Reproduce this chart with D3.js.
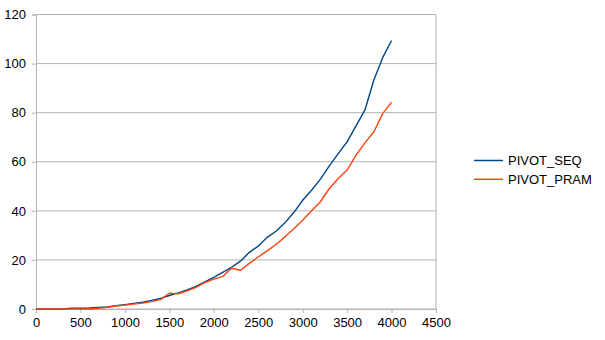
<!DOCTYPE html>
<html>
<head>
<meta charset="utf-8">
<script src="https://cdn.jsdelivr.net/npm/d3@7.9.0/dist/d3.min.js"></script>
<style>
  body { margin: 0; background: #fff; }
  svg { font-family: "Liberation Sans", Arial, sans-serif; }
</style>
</head>
<body>
<svg id="chart" width="605" height="340"></svg>
<script>
// input sizes 0..4000 step 100
const sizes = [0, 100, 200, 300, 400, 500, 600, 700, 800, 900,
  1000, 1100, 1200, 1300, 1400, 1500, 1600, 1700, 1800, 1900,
  2000, 2100, 2200, 2300, 2400, 2500, 2600, 2700, 2800, 2900,
  3000, 3100, 3200, 3300, 3400, 3500, 3600, 3700, 3800, 3900, 4000];

const pivotSeq = [0, 0, 0, 0, 0.3, 0.3, 0.4, 0.6, 0.8, 1.3,
  1.8, 2.3, 2.8, 3.5, 4.3, 5.5, 6.6, 7.8, 9.2, 11.1,
  12.9, 14.9, 17.0, 19.5, 23.1, 25.6, 29.2, 31.7, 35.1, 39.3,
  44.3, 48.4, 52.9, 58.3, 63.3, 68.1, 74.6, 81.0, 93.2, 102.4, 109.4];

const pivotPram = [0, 0, 0, 0, 0, 0, 0, 0.3, 0.7, 1.2,
  1.6, 2.0, 2.4, 3.0, 3.8, 6.4, 6.2, 7.4, 8.8, 10.8,
  12.2, 13.2, 16.6, 15.8, 18.6, 21.2, 23.7, 26.3, 29.4, 32.7,
  36.2, 40.0, 43.7, 49.1, 53.2, 56.6, 62.7, 67.7, 72.1, 79.6, 84.3];

const seriesNames = ['PIVOT_SEQ', 'PIVOT_PRAM'];
const seriesColors = ['#004586', '#ff420e'];
const xTicks = d3.range(0, 4501, 500);
const yTicks = d3.range(0, 121, 20);

const svg = d3.select('#chart');
const x = d3.scaleLinear().domain([0, 4500]).range([36, 436]);
const y = d3.scaleLinear().domain([0, 120]).range([309, 14.5]);

// grid lines
svg.append('g')
  .selectAll('line')
  .data(yTicks)
  .join('line')
  .attr('x1', x(0)).attr('x2', x(4500))
  .attr('y1', d => y(d)).attr('y2', d => y(d))
  .attr('stroke', '#b3b3b3');

// right border of plot
svg.append('line')
  .attr('x1', x(4500)).attr('x2', x(4500))
  .attr('y1', y(0)).attr('y2', y(120))
  .attr('stroke', '#b3b3b3');

// axes
const xAxis = svg.append('g')
  .attr('transform', `translate(0,${y(0)})`)
  .call(d3.axisBottom(x).tickValues(xTicks).tickFormat(d3.format('d')).tickSize(4).tickPadding(5));
const yAxis = svg.append('g')
  .attr('transform', `translate(${x(0)},0)`)
  .call(d3.axisLeft(y).tickValues(yTicks).tickFormat(d3.format('d')).tickSize(4).tickPadding(6));

[xAxis, yAxis].forEach(g => {
  g.select('.domain').attr('stroke', '#b3b3b3');
  g.selectAll('.tick line').attr('stroke', '#b3b3b3');
  g.selectAll('.tick text')
    .attr('fill', '#000')
    .style('font-size', '13px')
    .style('font-family', '"Liberation Sans", Arial, sans-serif');
});

// lines
const line = d3.line()
  .x((d, i) => x(sizes[i]))
  .y(d => y(d));

[pivotSeq, pivotPram].forEach((vals, idx) => {
  svg.append('path')
    .datum(vals)
    .attr('d', line)
    .attr('fill', 'none')
    .attr('stroke', seriesColors[idx])
    .attr('stroke-width', 1.4)
    .attr('stroke-linejoin', 'round');
});

// legend
const legend = svg.append('g');
seriesNames.forEach((name, idx) => {
  const ly = 160.5 + idx * 18.8;
  legend.append('line')
    .attr('x1', 474).attr('x2', 503)
    .attr('y1', ly).attr('y2', ly)
    .attr('stroke', seriesColors[idx])
    .attr('stroke-width', 1.5);
  legend.append('text')
    .attr('x', 508).attr('y', ly + 4.5)
    .style('font-size', '13px')
    .text(name);
});
</script>
</body>
</html>
